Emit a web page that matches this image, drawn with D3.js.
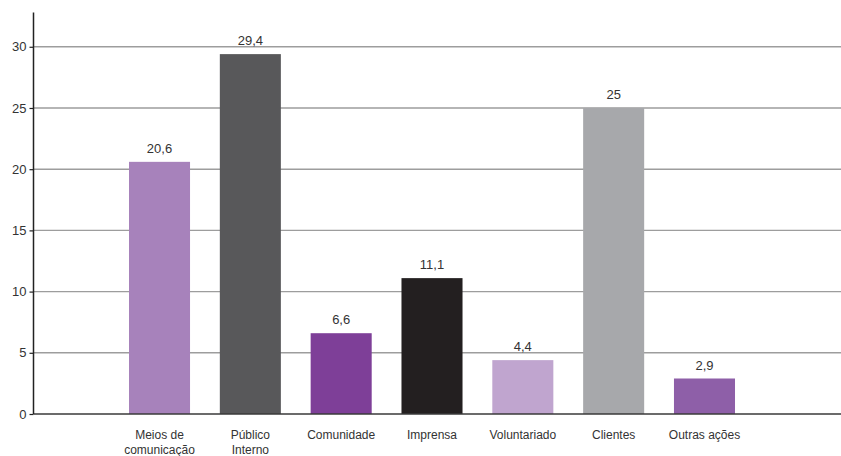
<!DOCTYPE html>
<html>
<head>
<meta charset="utf-8">
<script src="https://cdn.jsdelivr.net/npm/d3@7"></script>
<style>
  html, body { margin: 0; padding: 0; background: #fff; }
  svg { display: block; font-family: "Liberation Sans", Arial, sans-serif; }
</style>
</head>
<body>
<svg id="chart" width="841" height="456"></svg>
<script>
// Categories, values and colours for each bar
const categories = ["Meios de\ncomunicação", "Público\nInterno", "Comunidade", "Imprensa", "Voluntariado", "Clientes", "Outras ações"];
const values = [20.6, 29.4, 6.6, 11.1, 4.4, 25, 2.9];
const colors = ["#a782bb", "#58585a", "#7e3f98", "#231f20", "#c0a5cf", "#a7a8ab", "#8e5fa8"];
const yTicks = [0, 5, 10, 15, 20, 25, 30];

const svg = d3.select("#chart");
const W = 841;
const axisX = 33.5;
const baseY = 414;

const y = d3.scaleLinear().domain([0, 32.8]).range([baseY, 12.5]);
const x = d3.scaleBand()
  .domain(categories)
  .range([114.1, 749.9])
  .paddingInner(0.328)
  .paddingOuter(0.164);

// Horizontal gridlines
svg.append("g")
  .selectAll("line")
  .data(yTicks.filter(d => d > 0))
  .join("line")
  .attr("x1", axisX)
  .attr("x2", W)
  .attr("y1", d => y(d))
  .attr("y2", d => y(d))
  .attr("stroke", "#9d9d9d")
  .attr("stroke-width", 1.4);

// Bars
svg.append("g")
  .selectAll("rect")
  .data(values)
  .join("rect")
  .attr("x", (d, i) => x(categories[i]))
  .attr("width", x.bandwidth())
  .attr("y", d => y(d))
  .attr("height", d => baseY - y(d))
  .attr("fill", (d, i) => colors[i]);

// Value labels above bars
svg.append("g")
  .selectAll("text")
  .data(values)
  .join("text")
  .attr("x", (d, i) => x(categories[i]) + x.bandwidth() / 2)
  .attr("y", d => y(d) - 9)
  .attr("text-anchor", "middle")
  .attr("font-size", 13)
  .attr("fill", "#333")
  .text(d => String(d).replace(".", ","));

// Baseline
svg.append("line")
  .attr("x1", axisX).attr("x2", W)
  .attr("y1", baseY).attr("y2", baseY)
  .attr("stroke", "#3a3a3a")
  .attr("stroke-width", 1.5);

// Y axis
const yAxis = d3.axisLeft(y).tickValues(yTicks).tickSize(4).tickPadding(3).tickFormat(d3.format("d"));
const gy = svg.append("g").attr("transform", `translate(${axisX},0)`).call(yAxis);
gy.select(".domain").attr("stroke", "#222").attr("stroke-width", 1.5).attr("d", `M0,${y(32.8)}V${baseY}`);
gy.selectAll(".tick line").attr("stroke", "#222").attr("stroke-width", 1.2);
gy.selectAll(".tick text").attr("font-size", 13).attr("fill", "#333").attr("font-family", "Liberation Sans, Arial, sans-serif");

// Category labels (may wrap onto two lines)
const cat = svg.append("g")
  .selectAll("text")
  .data(categories)
  .join("text")
  .attr("text-anchor", "middle")
  .attr("font-size", 12)
  .attr("fill", "#333")
  .attr("transform", d => `translate(${x(d) + x.bandwidth() / 2},439)`);
cat.selectAll("tspan")
  .data(d => d.split("\n"))
  .join("tspan")
  .attr("x", 0)
  .attr("dy", (d, i) => i === 0 ? 0 : 15)
  .text(d => d);
</script>
</body>
</html>
